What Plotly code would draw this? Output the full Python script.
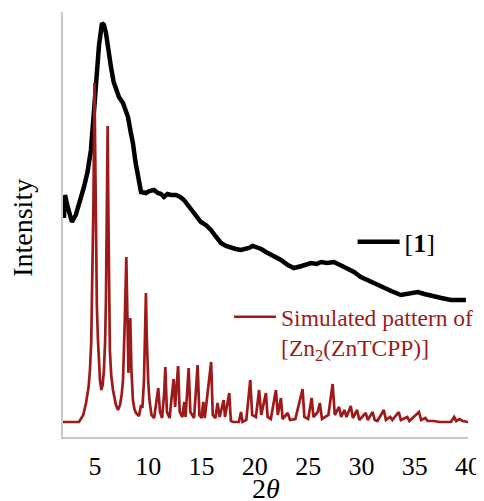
import plotly.graph_objects as go

# Experimental pattern [1] (2theta, intensity in arbitrary units)
exp_x = [2.09, 2.19, 2.4, 2.84, 3.2, 3.6, 3.97, 4.3, 4.62, 4.9, 5.09, 5.38, 5.66, 5.84, 6.03, 6.25,
         6.5, 6.75, 6.97, 7.25, 7.63, 7.9, 8.1, 8.35, 8.56, 8.8, 9.03, 9.32, 9.78, 10.1, 10.53,
         10.9, 11.2, 11.47, 11.8, 12.13, 12.6, 13.0, 13.35, 13.7, 14.0, 14.5, 14.94, 15.4, 15.88,
         16.3, 16.82, 17.3, 17.76, 18.2, 18.7, 19.1, 19.45, 19.8, 20.1, 20.6, 21.04, 21.8, 22.45,
         23.1, 23.67, 24.4, 25.26, 25.8, 26.2, 26.8, 27.42, 28.0, 28.55, 29.3, 29.95, 30.9, 31.83,
         32.8, 33.7, 34.5, 35.3, 35.9, 36.52, 37.5, 38.4, 39.2, 39.8]
exp_y = [219, 242, 232, 215, 222, 235, 250, 265, 287, 325, 354, 392, 414, 412, 404, 385,
         370, 355, 347, 340, 334, 325, 320, 305, 294, 275, 260, 245, 244, 246, 247,
         244, 243, 240, 243, 242, 242, 240, 237, 232, 227, 221, 215, 212, 207,
         201, 194, 191, 189, 188, 187, 188, 189, 191, 190, 188, 185, 181, 177,
         172, 169, 171, 174, 173, 175, 174, 175, 172, 169, 165, 160, 155, 150,
         146, 142, 144, 145, 143, 141, 139, 137, 137, 137]

# Simulated pattern of [Zn2(ZnTCPP)]
sim_x = [2.0, 3.5, 3.9, 4.16, 4.4, 4.53, 4.65, 4.72, 4.8, 4.86, 4.95, 5.02, 5.09, 5.18, 5.28,
         5.38, 5.47, 5.60, 5.72, 5.84, 5.95, 6.03, 6.12, 6.19,
         6.25, 6.32, 6.40, 6.52, 6.69, 6.97, 7.16, 7.35, 7.5, 7.63, 7.72, 7.80, 7.94, 8.05, 8.14,
         8.31, 8.42, 8.56, 8.7, 8.85,
         9.13, 9.32, 9.45, 9.60, 9.7, 9.78, 9.86, 9.92, 10.0, 10.11, 10.3, 10.55, 10.8, 10.94,
         11.1, 11.3, 11.5,
         11.6, 11.75, 12.0, 12.2, 12.38, 12.52, 12.8, 12.95, 13.2, 13.38, 13.5, 13.79, 13.95,
         14.3, 14.63, 14.8, 15.0, 15.16, 15.3, 15.9, 16.05, 16.3, 16.5, 16.7, 17.07, 17.2, 17.6,
         17.75, 18.0, 18.5, 18.7, 18.85, 19.2, 19.57, 19.75, 20.1, 20.4, 20.6, 21.04, 21.2, 21.5,
         21.98, 22.15, 22.45, 22.6, 23.08, 23.3, 23.8, 24.48, 24.65, 25.0, 25.33, 25.5, 25.9,
         26.1, 26.3, 26.9, 27.3, 27.5, 27.9, 28.1, 28.4, 28.6, 29.0, 29.2, 29.6, 29.8, 30.4,
         30.6, 31.05, 31.25, 31.5, 32.1, 32.3, 32.7, 32.9, 33.5, 33.7, 34.3, 34.5, 35.4, 35.6,
         36.0, 36.2, 36.8, 37.3, 38.4, 38.7, 38.9, 39.2, 39.5, 40.0]
sim_y = [15, 15, 22, 34, 50, 67, 95, 137, 180, 237, 354, 260, 187, 130, 97,
         72, 57, 47, 52, 67, 95, 137, 237, 311,
         230, 140, 87, 62, 47, 32, 27, 32, 42, 57, 80, 117, 180, 97, 64,
         119, 67, 37, 28, 24,
         21, 32, 29, 57, 95, 144, 100, 77, 55, 37, 22, 19, 40, 49,
         25, 19, 45,
         70, 25, 19, 40, 58, 30, 71, 25, 20, 35, 20, 69, 25,
         19, 72, 22, 19, 35, 19, 75, 22, 19, 34, 20, 37, 20, 44,
         16, 15, 15, 25, 15, 17, 57, 22, 20, 47, 22, 44, 20, 18,
         47, 22, 39, 18, 24, 17, 18, 48, 20, 18, 39, 20, 25,
         34, 18, 22, 53, 22, 30, 20, 27, 20, 31, 19, 27, 17, 24,
         17, 25, 17, 16, 27, 17, 20, 17, 25, 17, 20, 16, 25, 17,
         19, 16, 16, 15, 15, 20, 16, 18, 16, 15]

x_ticks = [5, 10, 15, 20, 25, 30, 35, 40]

SERIF = "Liberation Serif"
RED = "#9e1a1a"

fig = go.Figure()
fig.add_trace(go.Scatter(x=exp_x, y=exp_y, mode="lines", name="[<b>1</b>]",
                         line=dict(color="black", width=4.5), legend="legend"))
fig.add_trace(go.Scatter(x=sim_x, y=sim_y, mode="lines",
                         name="Simulated pattern of<br>[Zn<sub>2</sub>(ZnTCPP)]",
                         line=dict(color=RED, width=2.7), legend="legend2"))

# the page body adds an 8px offset, so the figure is 8px smaller on each axis
fig.update_layout(
    width=476, height=493,
    margin=dict(l=55, r=16, t=4, b=64),
    plot_bgcolor="white", paper_bgcolor="white",
    font=dict(family=SERIF, color="black"),
    showlegend=True,
    legend=dict(x=0.715, y=0.459, xanchor="left", yanchor="middle",
                font=dict(family=SERIF, size=26, color="black"),
                bgcolor="rgba(0,0,0,0)", itemwidth=42),
    legend2=dict(x=0.41, y=0.246, xanchor="left", yanchor="middle",
                 font=dict(family=SERIF, size=23.5, color=RED),
                 bgcolor="rgba(0,0,0,0)", itemwidth=42, valign="top"),
    xaxis=dict(range=[2, 40], tickvals=x_ticks, showgrid=False, zeroline=False,
               showline=True, linecolor="#c8c8c8", linewidth=1.5, ticks="",
               automargin=False, ticklabelstandoff=5,
               tickfont=dict(family=SERIF, size=26, color="black")),
    yaxis=dict(range=[0, 425], showticklabels=False, showgrid=False, zeroline=False,
               showline=True, linecolor="#c8c8c8", linewidth=1.5, ticks="",
               automargin=False),
    annotations=[
        dict(text="Intensity", xref="paper", yref="paper", x=-0.099, y=0.492,
             textangle=-90, showarrow=False, xanchor="center", yanchor="middle",
             font=dict(family=SERIF, size=28, color="black")),
        dict(text="2<i>θ</i>", xref="paper", yref="paper", x=0.501, y=-0.122,
             showarrow=False, xanchor="center", yanchor="middle",
             font=dict(family=SERIF, size=28, color="black")),
    ],
)

fig.write_html("out.html")
